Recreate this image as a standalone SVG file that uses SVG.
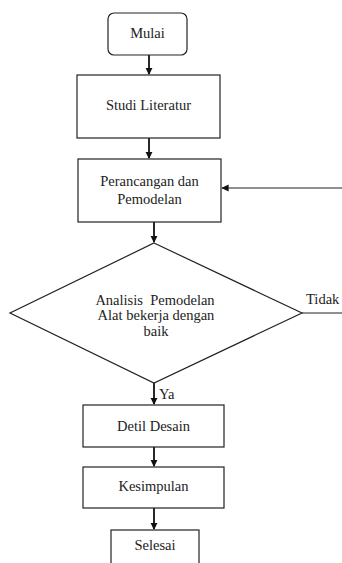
<svg xmlns="http://www.w3.org/2000/svg" width="342" height="563" viewBox="0 0 342 563">
<style>
.box{fill:#fff;stroke:#222;stroke-width:1.2}
.c{fill:none;stroke:#111;stroke-width:1.8}
.c1{fill:none;stroke:#222;stroke-width:1.2}
</style>
<defs>
<marker id="ah" markerWidth="4" markerHeight="4" refX="3.5" refY="2" orient="auto" markerUnits="strokeWidth" viewBox="0 0 4 4">
<path d="M0,0 L4,2 L0,4 z" fill="#111"/>
</marker>
<marker id="ah2" markerWidth="6" markerHeight="6" refX="5.5" refY="3" orient="auto" markerUnits="strokeWidth" viewBox="0 0 6 6">
<path d="M0,0 L6,3 L0,6 z" fill="#111"/>
</marker>
</defs>
<g font-family="Liberation Serif, Tinos, Times New Roman, DejaVu Serif, serif" font-size="14.5" fill="#222">
<g id="connectors">
<line class="c" x1="149" y1="55" x2="149" y2="74" marker-end="url(#ah)"/>
<line class="c" x1="149" y1="138" x2="149" y2="158" marker-end="url(#ah)"/>
<line class="c" x1="154" y1="222" x2="154" y2="242" marker-end="url(#ah)"/>
<line class="c" x1="154" y1="383" x2="154" y2="404" marker-end="url(#ah)"/>
<line class="c" x1="154" y1="447" x2="154" y2="466" marker-end="url(#ah)"/>
<line class="c" x1="154" y1="508" x2="154" y2="529" marker-end="url(#ah)"/>
<line class="c1" x1="302" y1="313" x2="342" y2="313"/>
<line class="c1" x1="342" y1="188" x2="222" y2="188" marker-end="url(#ah2)"/>
<text x="306" y="304">Tidak</text>
<text x="159" y="399">Ya</text>
</g>
<g id="mulai">
<rect class="box" x="108" y="13" width="79" height="42" rx="6"/>
<text text-anchor="middle" x="147.5" y="38">Mulai</text>
</g>
<g id="studi">
<rect class="box" x="77" y="75" width="143" height="63"/>
<text text-anchor="middle" x="148.5" y="110">Studi Literatur</text>
</g>
<g id="perancangan">
<rect class="box" x="78" y="159" width="143" height="63"/>
<text text-anchor="middle" x="149.5" y="186">Perancangan dan</text>
<text text-anchor="middle" x="149.5" y="204">Pemodelan</text>
</g>
<g id="analisis">
<polygon class="box" points="154,243 302,313 154,383 10,313"/>
<text text-anchor="middle" x="155" y="305" xml:space="preserve">Analisis  Pemodelan</text>
<text text-anchor="middle" x="156" y="320">Alat bekerja dengan</text>
<text text-anchor="middle" x="156" y="336">baik</text>
</g>
<g id="detil">
<rect class="box" x="83" y="405" width="141" height="42"/>
<text text-anchor="middle" x="153.5" y="431">Detil Desain</text>
</g>
<g id="kesimpulan">
<rect class="box" x="83" y="467" width="141" height="41"/>
<text text-anchor="middle" x="153.5" y="491">Kesimpulan</text>
</g>
<g id="selesai">
<rect class="box" x="111" y="530" width="88" height="45"/>
<text text-anchor="middle" x="155" y="550">Selesai</text>
</g>
</g>
</svg>
